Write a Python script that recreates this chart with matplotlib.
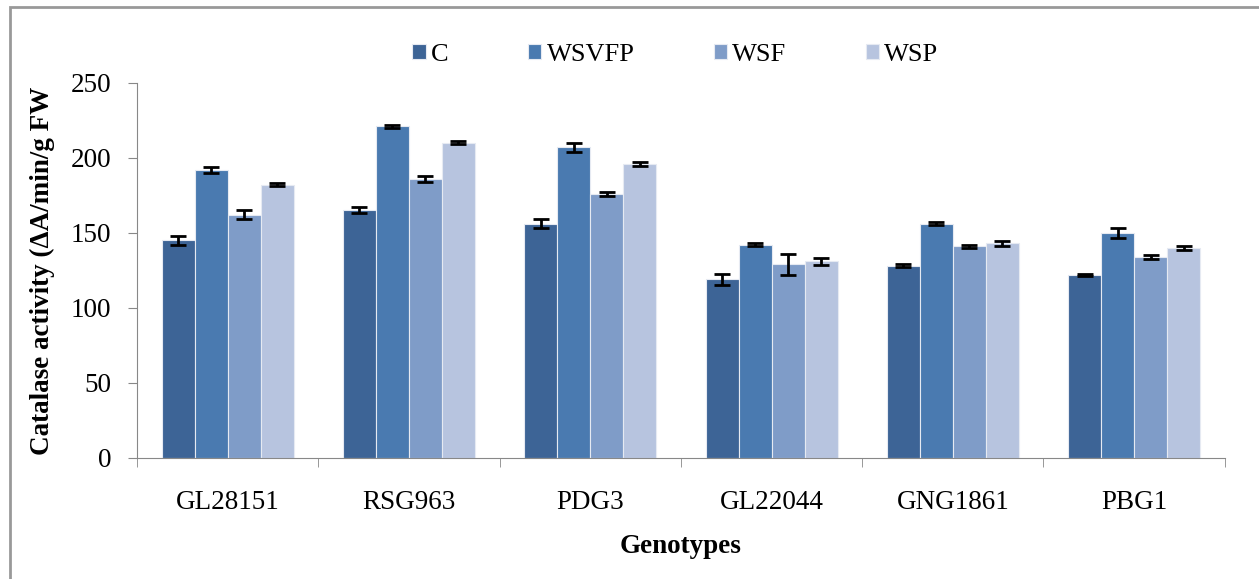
import numpy as np
import matplotlib.pyplot as plt
from matplotlib.patches import Rectangle

# ============================== Data ==========================================
genotypes = ['GL28151', 'RSG963', 'PDG3', 'GL22044', 'GNG1861', 'PBG1']
series = ['C', 'WSVFP', 'WSF', 'WSP']

c_vals     = [145, 165, 156, 119, 128, 122]
wsvfp_vals = [192, 221, 207, 142, 156, 150]
wsf_vals   = [162, 186, 176, 129, 141, 134]
wsp_vals   = [182, 210, 196, 131, 143, 140]

c_err     = [3.0, 2.0, 3.0, 3.5, 1.0, 0.7]
wsvfp_err = [2.0, 1.2, 3.0, 1.0, 1.0, 3.5]
wsf_err   = [3.0, 2.0, 1.5, 7.0, 1.2, 1.2]
wsp_err   = [1.0, 1.0, 1.5, 2.5, 1.5, 1.5]

values = [c_vals, wsvfp_vals, wsf_vals, wsp_vals]
errors = [c_err, wsvfp_err, wsf_err, wsp_err]
colors = ['#3D6496', '#4A7AB0', '#7F9CC8', '#B7C4DF']

# ============================== Plot ==========================================
plt.rcParams['font.family'] = ['Liberation Serif', 'DejaVu Serif']

fig = plt.figure(figsize=(12.59, 5.79), dpi=100)
ax = fig.add_axes([0.1088, 0.209, 0.864, 0.648])

x = np.arange(len(genotypes))
w = 0.182
for i in range(4):
    pos = x + (i - 1.5) * w
    ax.bar(pos, values[i], w, color=colors[i], edgecolor='#E6EAF2', linewidth=0.8,
           label=series[i], zorder=2)
    ax.errorbar(pos, values[i], yerr=errors[i], fmt='none', ecolor='black',
                elinewidth=2, capsize=5.5, capthick=2, zorder=3)

ax.set_xlim(-0.5, len(genotypes) - 0.5)
ax.set_ylim(0, 250)
ax.set_yticks(range(0, 251, 50))
ax.set_xticks(x)
ax.set_xticklabels(genotypes)
ax.set_xticks(np.arange(-0.5, len(genotypes)), minor=True)
ax.tick_params(axis='x', which='major', length=0, pad=23, labelsize=19.5)
ax.tick_params(axis='x', which='minor', length=6.5, color='#888888')
ax.tick_params(axis='y', length=6.5, color='#888888', labelsize=19.5, pad=12)

for s in ['top', 'right']:
    ax.spines[s].set_visible(False)
for s in ['left', 'bottom']:
    ax.spines[s].set_color('#888888')

ax.set_ylabel('Catalase activity (ΔA/min/g FW', fontsize=19.5, fontweight='bold', labelpad=11)
ax.set_xlabel('Genotypes', fontsize=19.5, fontweight='bold', labelpad=14)

ax.legend(loc='center', bbox_to_anchor=(0.495, 1.074), ncol=4, frameon=False,
          fontsize=19, handlelength=0.51, handleheight=0.51, handletextpad=0.2,
          columnspacing=3.0, borderpad=0, borderaxespad=0)

# outer frame of chart
fig.patches.append(Rectangle((0.0083, -0.02), 1.1, 1.008, transform=fig.transFigure,
                             fill=False, edgecolor='#999999', linewidth=2))

plt.savefig('out.png', dpi=100)
